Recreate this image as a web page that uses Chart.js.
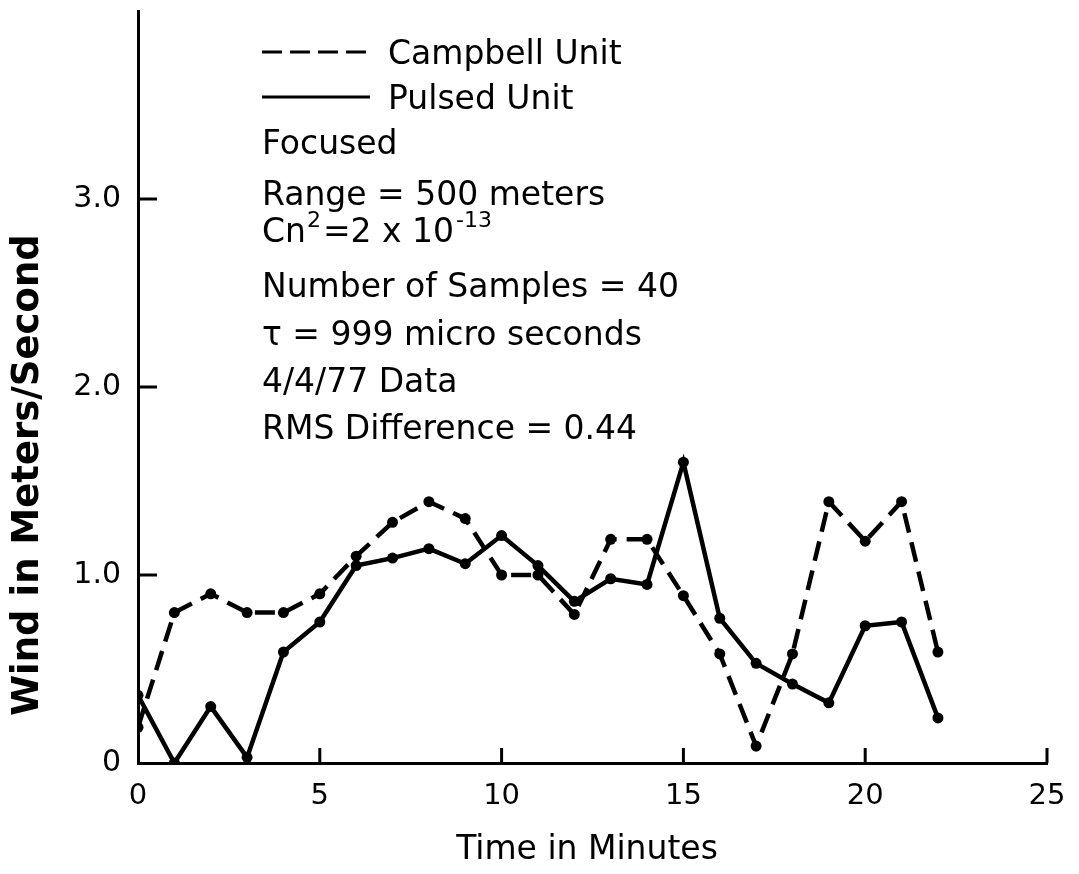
<!DOCTYPE html>
<html>
<head>
<meta charset="utf-8">
<script src="https://cdn.jsdelivr.net/npm/chart.js@4"></script>
<style>
  body { margin: 0; background: #fff; }
  #wrap { width: 1079px; height: 874px; position: relative; }
</style>
</head>
<body>
<div id="wrap"><canvas id="myCanvas"></canvas></div>
<script>
'use strict';

// data (minutes vs wind speed m/s)
let minutes = [0, 1, 2, 3, 4, 5, 6, 7, 8, 9, 10, 11, 12, 13, 14, 15, 16, 17, 18, 19, 20, 21, 22];
let campbellWind = [0.19, 0.80, 0.90, 0.80, 0.80, 0.90, 1.10, 1.28, 1.39, 1.30, 1.00, 1.00, 0.79, 1.19, 1.19, 0.89, 0.58, 0.09, 0.58, 1.39, 1.18, 1.39, 0.59];
let pulsedWind = [0.36, 0.00, 0.30, 0.03, 0.59, 0.75, 1.05, 1.09, 1.14, 1.06, 1.21, 1.05, 0.86, 0.98, 0.95, 1.60, 0.77, 0.53, 0.42, 0.32, 0.73, 0.75, 0.24];
let xTickValues = [5, 10, 15, 20, 25];
let yTickValues = [1, 2, 3];

let legendNames = ['Campbell Unit', 'Pulsed Unit'];
let noteLines = ['Focused', 'Range = 500 meters', 'CN2', 'Number of Samples = 40', '\u03c4 = 999 micro seconds', '4/4/77 Data', 'RMS Difference = 0.44'];

const FONT = '"DejaVu Sans", sans-serif';

function toPoints(values) {
  let pts = [];
  for (let i = 0; i < minutes.length; i++) {
    pts.push({x: minutes[i], y: values[i]});
  }
  return pts;
}

// tick marks pointing inward, the note block, and axis titles
const paperMarks = {
  id: 'paperMarks',
  afterDraw(chart) {
    const ctx = chart.ctx;
    const xs = chart.scales.x;
    const ys = chart.scales.y;
    const area = chart.chartArea;
    ctx.save();
    ctx.strokeStyle = '#000';
    ctx.lineWidth = 3;
    ctx.lineCap = 'butt';
    for (let v of xTickValues) {
      let px = xs.getPixelForValue(v);
      ctx.beginPath();
      ctx.moveTo(px, area.bottom);
      ctx.lineTo(px, area.bottom - 15);
      ctx.stroke();
    }
    for (let v of yTickValues) {
      let py = ys.getPixelForValue(v);
      ctx.beginPath();
      ctx.moveTo(area.left, py);
      ctx.lineTo(area.left + 19, py);
      ctx.stroke();
    }

    // legend samples
    ctx.lineWidth = 3;
    ctx.setLineDash([20, 8]);
    ctx.beginPath();
    ctx.moveTo(262, 52);
    ctx.lineTo(370, 52);
    ctx.stroke();
    ctx.setLineDash([]);
    ctx.beginPath();
    ctx.moveTo(262, 97);
    ctx.lineTo(370, 97);
    ctx.stroke();

    ctx.fillStyle = '#000';
    ctx.textBaseline = 'alphabetic';
    ctx.textAlign = 'left';
    ctx.font = '33px ' + FONT;
    ctx.fillText(legendNames[0], 388, 52 + 12);
    ctx.fillText(legendNames[1], 388, 97 + 12);

    let lineY = [142, 193, 230, 285, 333, 380, 427];
    for (let i = 0; i < noteLines.length; i++) {
      let base = lineY[i] + 12;
      if (noteLines[i] === 'CN2') {
        let x = 262;
        ctx.font = '33px ' + FONT;
        ctx.fillText('Cn', x, base);
        x += ctx.measureText('Cn').width + 1;
        ctx.font = '22px ' + FONT;
        ctx.fillText('2', x, base - 15);
        x += ctx.measureText('2').width + 2;
        ctx.font = '33px ' + FONT;
        ctx.fillText('=2 x 10', x, base);
        x += ctx.measureText('=2 x 10').width + 2;
        ctx.font = '22px ' + FONT;
        ctx.fillText('-13', x, base - 15);
      } else {
        ctx.font = '33px ' + FONT;
        ctx.fillText(noteLines[i], 262, base);
      }
    }

    // axis titles
    ctx.font = '33px ' + FONT;
    ctx.textAlign = 'center';
    ctx.textBaseline = 'middle';
    ctx.fillText('Time in Minutes', 587, 850);
    ctx.translate(28, 475);
    ctx.rotate(-Math.PI / 2);
    ctx.font = 'bold 37px ' + FONT;
    ctx.fillText('Wind in Meters/Second', 0, 0);
    ctx.restore();
  }
};

const data = {
  datasets: [{
    label: legendNames[0],
    data: toPoints(campbellWind),
    borderColor: '#000',
    backgroundColor: '#000',
    borderWidth: 4.5,
    borderDash: [20, 10],
    pointRadius: 5.5,
    pointBorderWidth: 0,
    tension: 0
  }, {
    label: legendNames[1],
    data: toPoints(pulsedWind),
    borderColor: '#000',
    backgroundColor: '#000',
    borderWidth: 4.5,
    pointRadius: 5.5,
    pointBorderWidth: 0,
    tension: 0
  }]
};

const config = {
  type: 'line',
  data: data,
  options: {
    responsive: true,
    maintainAspectRatio: false,
    animation: false,
    layout: {
      padding: {top: 11, right: 32, left: 0, bottom: 0}
    },
    plugins: {
      legend: {display: false},
      tooltip: {enabled: false}
    },
    scales: {
      x: {
        type: 'linear',
        min: 0,
        max: 25,
        grid: {display: false},
        border: {display: true, color: '#000', width: 3},
        ticks: {
          stepSize: 5,
          color: '#000',
          padding: 8,
          font: {family: FONT, size: 29}
        },
        afterFit(scale) {
          scale.height = 111;
        }
      },
      y: {
        type: 'linear',
        min: 0,
        max: 4,
        grid: {display: false},
        border: {display: true, color: '#000', width: 3},
        ticks: {
          stepSize: 1,
          color: '#000',
          padding: 9,
          font: {family: FONT, size: 30},
          callback: function(v) {
            if (v === 4) {
              return null;
            }
            return v === 0 ? '0' : v.toFixed(1);
          }
        },
        afterFit(scale) {
          scale.width = 138;
          scale.paddingTop = 0;
          scale.paddingBottom = 0;
        }
      }
    }
  },
  plugins: [paperMarks]
};

const chart = document.getElementById('myCanvas');
const myChart = new Chart(chart, config);
</script>
</body>
</html>
